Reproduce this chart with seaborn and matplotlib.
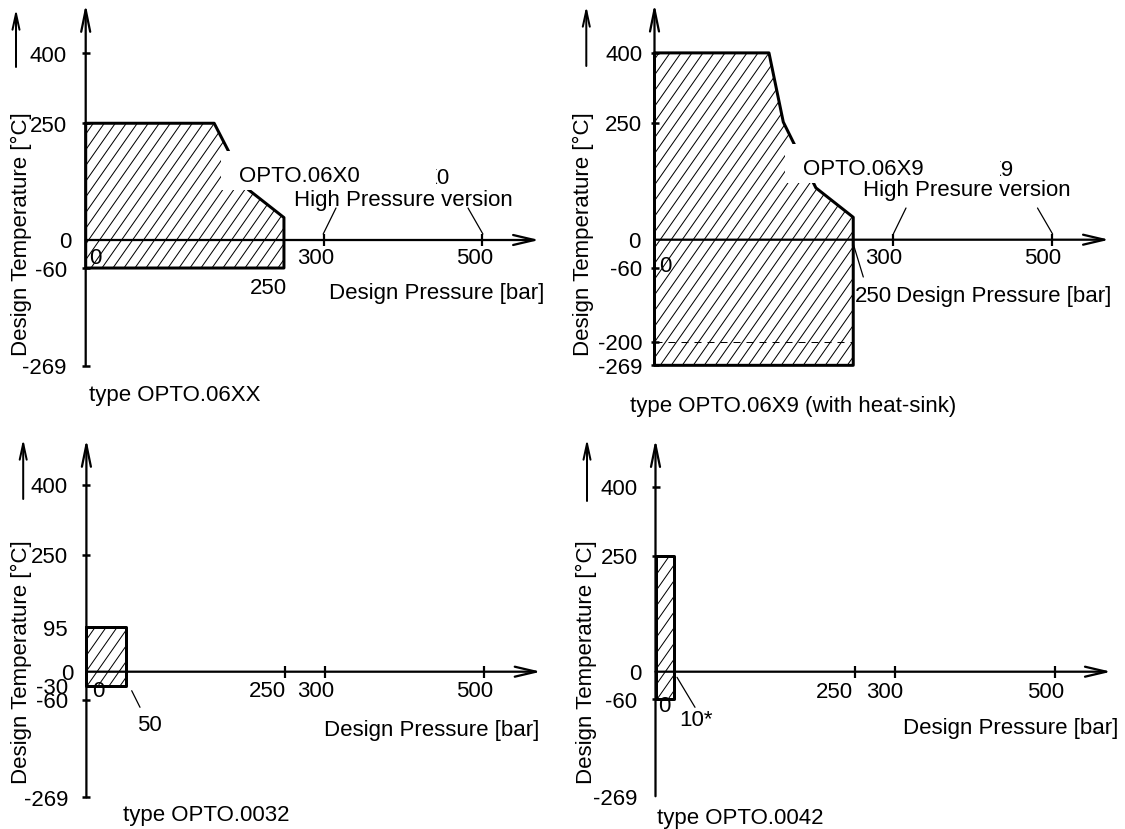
import matplotlib
matplotlib.use("Agg")
import numpy as np
import pandas as pd
import matplotlib.pyplot as plt
import seaborn as sns
from matplotlib.collections import LineCollection
from matplotlib.patches import Rectangle
from matplotlib.transforms import Bbox, TransformedBbox

# -------------------------------------------------------
# Data (pressure [bar], temperature [°C])
# -------------------------------------------------------
env_06xx_p = [0, 162, 205, 250, 250, 0]
env_06xx_t = [250, 250, 108, 48, -60, -60]

env_06x9_p = [0, 144, 162, 203, 250, 250, 0]
env_06x9_t = [400, 400, 252, 111, 48, -269, -269]

env_0032_p = [0, 50, 50, 0]
env_0032_t = [95, 95, -30, -30]

env_0042_p = [0, 23, 23, 0]          # drawn width, labelled "10*"
env_0042_t = [250, 250, -60, -60]

# temperature ticks
yt_06xx = [400, 250, 0, -60, -269]
yt_06x9 = [400, 250, 0, -60, -218, -269]   # -200 is drawn a bit low in the original
yl_06x9 = ["400", "250", "0", "-60", "-200", "-269"]
yt_0032 = [400, 250, 95, 0, -30, -60, -269]
yt_0042 = [400, 250, 0, -60, -269]

# pressure ticks
xt_top = [300, 500]
xt_bottom = [250, 300, 500]

heat_sink_t = -218      # dashed line, "-200"

# -------------------------------------------------------
# Figure setup
# -------------------------------------------------------
W, H, DPI = 1125, 830, 90
PT = 72 / DPI      # points per pixel
FS = 17.8

sns.set_theme(style="white")
plt.rcParams["font.family"] = ["Liberation Sans", "DejaVu Sans"]
plt.rcParams["text.color"] = "black"

fig = plt.figure(figsize=(W / DPI, H / DPI), dpi=DPI)
fig.patch.set_facecolor("white")


def make_panel(box, origin, scale):
    """Axes over one quadrant; data units map linearly onto the drawing."""
    x0, y0, x1, y1 = box
    ox, oy = origin
    sx, sy = scale
    ax = fig.add_axes([x0 / W, 1 - y1 / H, (x1 - x0) / W, (y1 - y0) / H])
    xlim = ((x0 - ox) / sx, (x1 - ox) / sx)
    ylim = ((oy - y1) / sy, (oy - y0) / sy)
    ax.set_xlim(*xlim)
    ax.set_ylim(*ylim)
    ax.set_axis_off()

    def px(x, y):
        return (x - ox) / sx, (oy - y) / sy
    return ax, px, xlim, ylim


def arrow(ax, start, end, hl=0.88, hw=0.18, lw=1.8):
    ax.annotate("", xy=end, xytext=start, annotation_clip=False, zorder=3,
                arrowprops=dict(arrowstyle=f"->,head_length={hl},head_width={hw}",
                                lw=lw, color="black", shrinkA=0, shrinkB=0,
                                mutation_scale=20))


def hatch(ax, p, t, scale, step=11, angle=55):
    # steep single hatch like the drawing, clipped to the envelope
    sx, sy = scale
    poly = ax.fill(p, t, facecolor="none", edgecolor="none", zorder=1)[0]
    X = np.array(p) * sx
    Y = np.array(t) * sy
    k = np.tan(np.radians(angle))
    x_lo, x_hi = X.min() - 5, X.max() + 5
    cs = np.arange(Y.min() - k * x_hi, Y.max() - k * x_lo, k * step)
    segs = [[(x_lo / sx, (k * x_lo + c) / sy), (x_hi / sx, (k * x_hi + c) / sy)] for c in cs]
    lc = LineCollection(segs, colors="black", linewidths=0.8, zorder=1)
    ax.add_collection(lc, autolim=False)
    lc.set_clip_path(poly)


def put_text(ax, px, x, y, s, ha="center", **kw):
    ax.text(*px(x, y + 2), s, fontsize=FS, ha=ha, va="center", zorder=6, **kw)


def masked_label(ax, px, x, y, s):
    # label on a white box that hides the hatch behind it
    txt = ax.text(*px(x, y), s, fontsize=FS, ha="left", va="baseline", zorder=6)
    bb = txt.get_window_extent(fig.canvas.get_renderer())
    inv = ax.transData.inverted()
    (a0, b0), (a1, b1) = inv.transform([(bb.x0 - 18, bb.y0 - 4), (bb.x1 + 10, bb.y1 + 14)])
    ax.add_patch(Rectangle((a0, b0), a1 - a0, b1 - b0, facecolor="white",
                           edgecolor="none", zorder=5))


def clipped_label(ax, px, x, y, s, clip_x):
    # text mostly hidden in the original, only its tail shows
    txt = ax.text(*px(x, y), s, fontsize=FS, ha="right", va="baseline", zorder=6)
    xa, _ = px(clip_x, 0)
    txt.set_clip_box(TransformedBbox(Bbox([[xa, -2000], [2000, 2000]]), ax.transData))
    txt.set_clip_on(True)


def draw_panel(sp):
    ax, px, xlim, ylim = make_panel(sp["box"], sp["origin"], sp["scale"])
    p, t = sp["env"]

    # hatched envelope + outline
    hatch(ax, p, t, sp["scale"])
    outline = pd.DataFrame({"p": p + p[:1], "t": t + t[:1]})
    sns.lineplot(data=outline, x="p", y="t", sort=False, estimator=None,
                 color="black", linewidth=2.4, ax=ax, zorder=2)
    ax.set_xlim(*xlim)
    ax.set_ylim(*ylim)

    if "dash" in sp:
        ax.plot([0, p[-3]], [sp["dash"], sp["dash"]], color="black", lw=0.8,
                ls=(0, (7, 6)), zorder=2)

    # axes with arrow heads
    arrow(ax, (0, 0), (sp["x_end"], 0), hl=0.85, hw=0.2)
    arrow(ax, (0, sp["y_bottom"]), (0, sp["y_top"]))
    ax.plot(np.zeros(len(sp["y_marks"])), sp["y_marks"], ls="none", marker="_",
            ms=8 * PT, mew=2.5 * PT, color="black", zorder=3)
    ax.plot(sp["x_marks"], np.zeros(len(sp["x_marks"])), ls="none", marker="|",
            ms=12 * PT, mew=2.2 * PT, color="black", zorder=3)

    # temperature tick labels
    for v, lab in zip(sp["yt"], sp["yl"]):
        off = sp["zero_dx"] if lab == "0" else sp["ylab_dx"]
        ax.annotate(lab, (0, v), xytext=(off * PT, -2 * PT), textcoords="offset points",
                    ha="right", va="center", fontsize=FS, zorder=6)

    # pressure tick labels
    for v, dx, ha in zip(sp["xt"], sp["xt_dx"], sp["xt_ha"]):
        ax.annotate(str(v), (v, 0), xytext=(dx * PT, -(sp["xt_dy"] + 2) * PT),
                    textcoords="offset points", ha=ha, va="center", fontsize=FS, zorder=6)

    put_text(ax, px, *sp["origin_lbl"], "0")
    for x, y, s, ha in sp["texts"]:
        put_text(ax, px, x, y, s, ha=ha)
    for (xa, ya), (xb, yb) in sp["leaders"]:
        a, b = px(xa, ya), px(xb, yb)
        ax.plot([a[0], b[0]], [a[1], b[1]], color="black", lw=1.0, zorder=3)

    # y label with its own little arrow
    put_text(ax, px, *sp["ylabel"], "Design Temperature [°C]", rotation=90)
    xs, ys0, ys1 = sp["side_arrow"]
    arrow(ax, px(xs, ys0), px(xs, ys1), hl=0.64, hw=0.14, lw=1.6)

    if "masked" in sp:
        masked_label(ax, px, *sp["masked"])
    if "hidden" in sp:
        clipped_label(ax, px, *sp["hidden"])
    return ax


panels = [
    dict(box=(0, 0, 560, 415), origin=(85.7, 241), scale=(0.793, 0.467),
         env=(env_06xx_p, env_06xx_t), x_end=572, y_top=505, y_bottom=-269,
         yt=yt_06xx, yl=[str(v) for v in yt_06xx], y_marks=[400, 250, -60, -269],
         x_marks=xt_top, ylab_dx=-19, zero_dx=-14,
         xt=xt_top, xt_dx=[-7.5, -8], xt_ha=["center", "center"], xt_dy=16,
         origin_lbl=(95.7, 257),
         texts=[(268, 287, "250", "center"),
                (544.6, 292, "Design Pressure [bar]", "right"),
                (89.3, 393, "type OPTO.06XX", "left"),
                (293.6, 198.5, "High Pressure version", "left")],
         leaders=[((323.2, 235), (336, 209)), ((482.9, 235), (468, 209))],
         ylabel=(21.4, 232), side_arrow=(16, 68, 10),
         masked=(239, 181.7, "OPTO.06X0"),
         hidden=(450, 184, "X0", 435.5)),
    dict(box=(560, 0, 1125, 415), origin=(654.5, 240.7), scale=(0.795, 0.467),
         env=(env_06x9_p, env_06x9_t), x_end=572, y_top=505, y_bottom=-269,
         yt=yt_06x9, yl=yl_06x9, y_marks=[400, 250, -60, heat_sink_t, -269],
         x_marks=xt_bottom, ylab_dx=-12, zero_dx=-14,
         xt=xt_top, xt_dx=[-9, -9], xt_ha=["center", "center"], xt_dy=16,
         origin_lbl=(665, 265), dash=heat_sink_t,
         texts=[(855, 295, "250", "left"),
                (1111.4, 295, "Design Pressure [bar]", "right"),
                (630, 405, "type OPTO.06X9 (with heat-sink)", "left"),
                (862.7, 188.5, "High Presure version", "left")],
         leaders=[((853.3, 245), (863.3, 278)), ((893.3, 235), (906, 209)),
                  ((1052.6, 235), (1037.5, 209))],
         ylabel=(583.4, 232), side_arrow=(586.3, 67, 7),
         masked=(803, 175, "OPTO.06X9"),
         hidden=(1014, 176, "X9", 999.5)),
    dict(box=(0, 415, 560, 830), origin=(86.4, 672.7), scale=(0.796, 0.467),
         env=(env_0032_p, env_0032_t), x_end=571, y_top=498, y_bottom=-269,
         yt=yt_0032, yl=[str(v) for v in yt_0032], y_marks=[400, 250, -60, -269],
         x_marks=xt_bottom, ylab_dx=-18.5, zero_dx=-13,
         xt=xt_bottom, xt_dx=[1, 9, 9], xt_ha=["right", "right", "right"], xt_dy=16.7,
         origin_lbl=(98, 690),
         texts=[(149, 723.3, "50", "center"),
                (539, 728.3, "Design Pressure [bar]", "right"),
                (123, 813.3, "type OPTO.0032", "left")],
         leaders=[((131.7, 691.7), (140, 708.3))],
         ylabel=(21.4, 660), side_arrow=(23.2, 500, 440)),
    dict(box=(560, 415, 1125, 830), origin=(655.5, 672.7), scale=(0.798, 0.463),
         env=(env_0042_p, env_0042_t), x_end=571, y_top=502, y_bottom=-269,
         yt=yt_0042, yl=[str(v) for v in yt_0042], y_marks=[400, 250, -60],
         x_marks=xt_bottom, ylab_dx=-18, zero_dx=-14.5,
         xt=xt_bottom, xt_dx=[-2, 8, 10], xt_ha=["right", "right", "right"], xt_dy=17.3,
         origin_lbl=(664.6, 705),
         texts=[(679, 718.3, "10*", "left"),
                (1118.6, 726.7, "Design Pressure [bar]", "right"),
                (657.3, 816.7, "type OPTO.0042", "left")],
         leaders=[((677, 678.3), (695, 708.3))],
         ylabel=(586, 660), side_arrow=(587, 502, 440)),
]

for sp in panels:
    draw_panel(sp)

fig.savefig("out.png", dpi=DPI, facecolor="white")
